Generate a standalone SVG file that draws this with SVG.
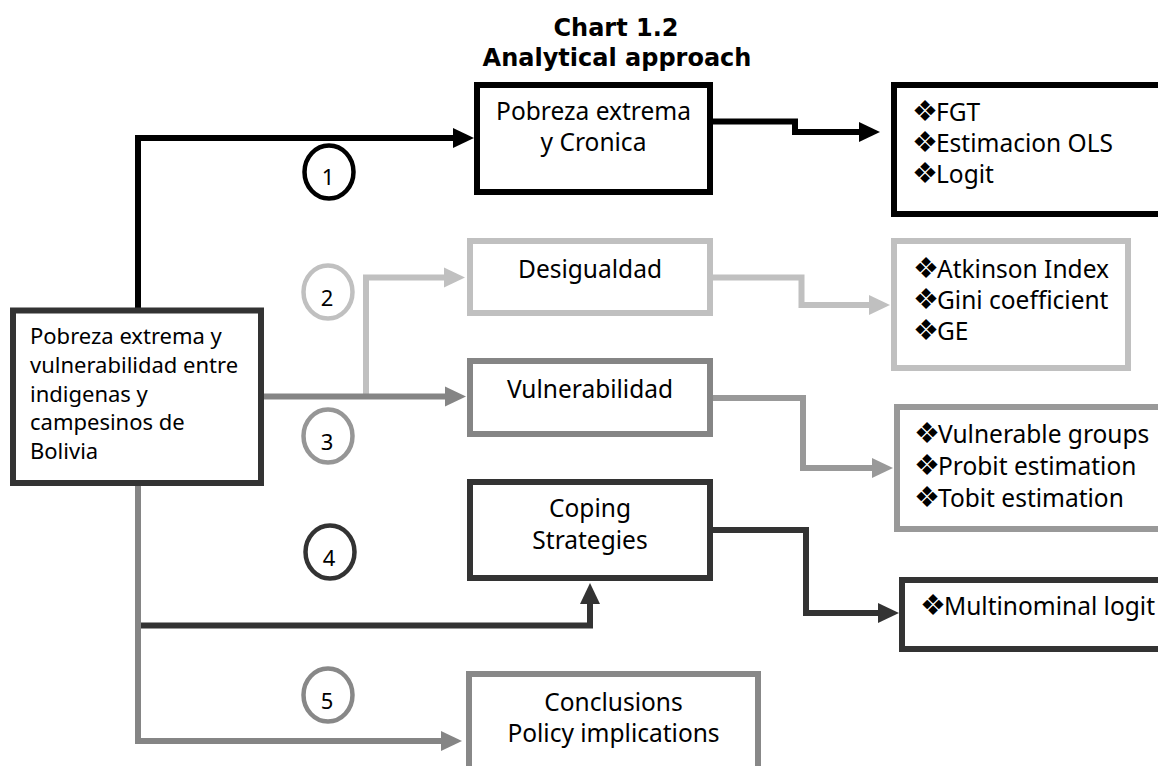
<svg xmlns="http://www.w3.org/2000/svg" width="1158" height="766" viewBox="0 0 1158 766">
<style>
text{font-family:"Noto Sans","Liberation Sans",sans-serif;fill:#000}
.t{font-family:"DejaVu Sans","Noto Sans",sans-serif;font-size:24px;font-weight:bold;text-anchor:middle}
.n{font-size:24.5px;text-anchor:middle}
.l{font-size:22px}
.li{font-size:24.5px}
.b{font-family:"DejaVu Sans",sans-serif;font-size:29px}
.d{font-size:22px;text-anchor:middle}
.box{fill:#fff;stroke-width:6}
.c{fill:none;stroke-width:6;stroke-linejoin:miter}
.o{fill:#fff;stroke-width:4.5}
</style>
<defs>
<marker id="aK" markerUnits="userSpaceOnUse" markerWidth="21" markerHeight="20" refX="1" refY="10" orient="auto" overflow="visible"><path d="M0,0 L21,10 L0,20 z" fill="#000"/></marker>
<marker id="aD" markerUnits="userSpaceOnUse" markerWidth="21" markerHeight="20" refX="1" refY="10" orient="auto" overflow="visible"><path d="M0,0 L21,10 L0,20 z" fill="#333"/></marker>
<marker id="aL" markerUnits="userSpaceOnUse" markerWidth="21" markerHeight="20" refX="1" refY="10" orient="auto" overflow="visible"><path d="M0,0 L21,10 L0,20 z" fill="#c0c0c0"/></marker>
<marker id="aG" markerUnits="userSpaceOnUse" markerWidth="21" markerHeight="20" refX="1" refY="10" orient="auto" overflow="visible"><path d="M0,0 L21,10 L0,20 z" fill="#858585"/></marker>
<marker id="aM" markerUnits="userSpaceOnUse" markerWidth="21" markerHeight="20" refX="1" refY="10" orient="auto" overflow="visible"><path d="M0,0 L21,10 L0,20 z" fill="#999"/></marker>
</defs>
<rect width="1158" height="766" fill="#fff"/>
<g id="title">
<text class="t" x="616" y="36">Chart 1.2</text>
<text class="t" x="617" y="66">Analytical approach</text>
</g>
<g id="connectors">
<path class="c" stroke="#000" d="M138,308 L138,138 L454,138" marker-end="url(#aK)"/>
<path class="c" stroke="#000" d="M713,121.5 L795,121.5 L795,132 L860,132" marker-end="url(#aK)"/>
<path class="c" stroke="#c0c0c0" d="M366,396 L366,277.5 L445,277.5" marker-end="url(#aL)"/>
<path class="c" stroke="#858585" d="M264,396.5 L446,396.5" marker-end="url(#aG)"/>
<path class="c" stroke="#c0c0c0" d="M713,277.5 L801.5,277.5 L801.5,305 L870,305" marker-end="url(#aL)"/>
<path class="c" stroke="#999" d="M713,398 L803,398 L803,468 L873,468" marker-end="url(#aM)"/>
<path class="c" stroke="#333" d="M713,530 L806,530 L806,613 L879,613" marker-end="url(#aD)"/>
<path class="c" stroke="#858585" d="M138,486 L138,741 L442,741" marker-end="url(#aG)"/>
<path class="c" stroke="#333" d="M141,625.5 L590,625.5 L590,603" marker-end="url(#aD)"/>
</g>
<g id="n-root">
<rect class="box" stroke="#333" x="13" y="310.5" width="248" height="172.5"/>
<text class="l" x="30" y="344">Pobreza extrema y</text>
<text class="l" x="30" y="373">vulnerabilidad entre</text>
<text class="l" x="30" y="402">indigenas y</text>
<text class="l" x="30" y="430">campesinos de</text>
<text class="l" x="30" y="459">Bolivia</text>
</g>
<g id="n-pobreza">
<rect class="box" stroke="#000" x="477" y="85" width="233" height="107"/>
<text class="n" x="593.5" y="120">Pobreza extrema</text>
<text class="n" x="593.5" y="151">y Cronica</text>
</g>
<g id="n-fgt">
<rect class="box" stroke="#000" x="894" y="85" width="300" height="129"/>
<text class="b" x="912" y="121">❖</text><text class="li" x="936" y="121">FGT</text>
<text class="b" x="912" y="152">❖</text><text class="li" x="936" y="152">Estimacion OLS</text>
<text class="b" x="912" y="183">❖</text><text class="li" x="936" y="183">Logit</text>
</g>
<g id="n-desigualdad">
<rect class="box" stroke="#c0c0c0" x="470" y="241" width="240" height="72"/>
<text class="n" x="590" y="278">Desigualdad</text>
</g>
<g id="n-atkinson">
<rect class="box" stroke="#c0c0c0" x="894" y="241" width="234" height="127"/>
<text class="b" x="913" y="278">❖</text><text class="li" x="937" y="278">Atkinson Index</text>
<text class="b" x="913" y="309">❖</text><text class="li" x="937" y="309">Gini coefficient</text>
<text class="b" x="913" y="340">❖</text><text class="li" x="937" y="340">GE</text>
</g>
<g id="n-vulnerabilidad">
<rect class="box" stroke="#858585" x="470" y="361" width="240" height="73"/>
<text class="n" x="590" y="398">Vulnerabilidad</text>
</g>
<g id="n-vulnerable">
<rect class="box" stroke="#999" x="897" y="407" width="300" height="122"/>
<text class="b" x="914" y="443">❖</text><text class="li" x="938" y="443">Vulnerable groups</text>
<text class="b" x="914" y="475">❖</text><text class="li" x="938" y="475">Probit estimation</text>
<text class="b" x="914" y="507">❖</text><text class="li" x="938" y="507">Tobit estimation</text>
</g>
<g id="n-coping">
<rect class="box" stroke="#333" x="470" y="482" width="240" height="96"/>
<text class="n" x="590" y="517">Coping</text>
<text class="n" x="590" y="549">Strategies</text>
</g>
<g id="n-multinominal">
<rect class="box" stroke="#333" x="902" y="580" width="300" height="69"/>
<text class="b" x="920" y="615">❖</text><text class="li" x="944" y="615">Multinominal logit</text>
</g>
<g id="n-conclusions">
<rect class="box" stroke="#888" x="469" y="674" width="289" height="120"/>
<text class="n" x="613.5" y="711">Conclusions</text>
<text class="n" x="613.5" y="742">Policy implications</text>
</g>
<g id="c1"><ellipse class="o" stroke="#000" cx="329" cy="172" rx="24.5" ry="26.5"/><text class="d" x="328" y="185">1</text></g>
<g id="c2"><ellipse class="o" stroke="#c0c0c0" cx="328" cy="292" rx="24.5" ry="26.5"/><text class="d" x="327" y="306">2</text></g>
<g id="c3"><ellipse class="o" stroke="#969696" cx="328" cy="436" rx="24.5" ry="26.5"/><text class="d" x="327" y="450">3</text></g>
<g id="c4"><ellipse class="o" stroke="#333" cx="330" cy="552" rx="24.5" ry="26.5"/><text class="d" x="329" y="566">4</text></g>
<g id="c5"><ellipse class="o" stroke="#888" cx="328" cy="695" rx="24.5" ry="26.5"/><text class="d" x="327" y="709">5</text></g>
</svg>
